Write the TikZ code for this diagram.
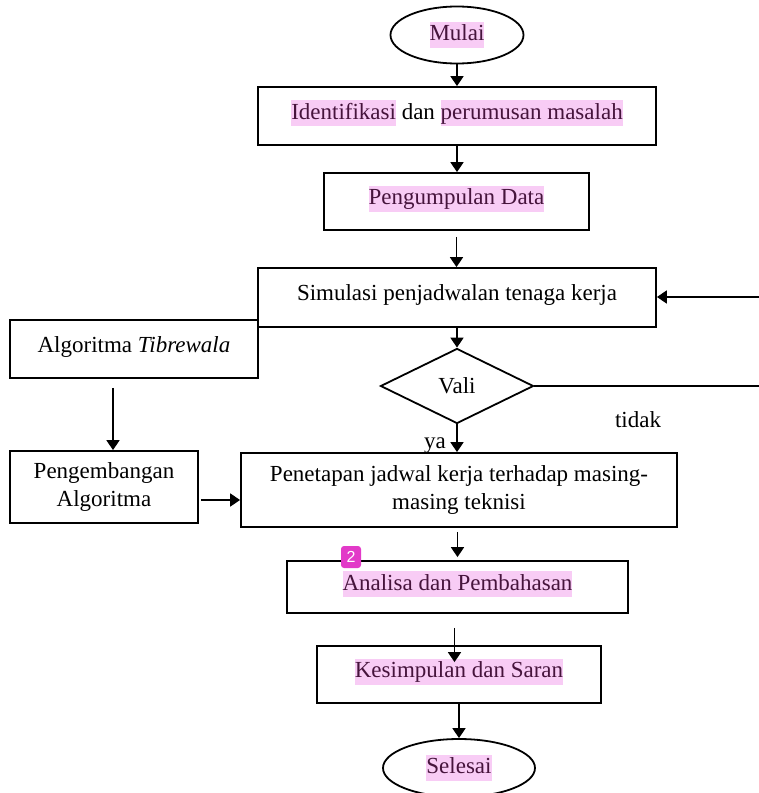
\documentclass[tikz,border=0pt]{standalone}
\usepackage{fontspec}
\setmainfont{Liberation Serif}
\newfontfamily\badgefont{Liberation Sans}
\usepackage{xcolor}
\usetikzlibrary{shapes.geometric,arrows.meta}
\definecolor{hlpink}{RGB}{248,204,245}
\definecolor{hltext}{RGB}{70,20,60}
\definecolor{badgepink}{RGB}{226,58,200}
\newcommand{\hl}[1]{{\setlength{\fboxsep}{0pt}\colorbox{hlpink}{\color{hltext}\rule[-3.6pt]{0pt}{13pt}#1}}}

\begin{document}
\begin{tikzpicture}[x=0.5pt,y=-0.5pt,
    font=\fontsize{11.5}{14}\selectfont,
    box/.style={draw,line width=0.9pt,inner sep=0pt,text height=8pt,text depth=5pt},
    twobox/.style={draw,line width=0.9pt,inner sep=0pt,align=center},
    term/.style={draw,ellipse,line width=0.9pt,inner sep=0pt},
    decide/.style={draw,diamond,line width=0.9pt,inner sep=0pt},
    link/.style={line width=0.9pt},
    arrow/.style={line width=0.9pt,-{Triangle[length=5pt,width=6.5pt]}}]
  \useasboundingbox (0,0) rectangle (759,793);
  % Start
  \node[term,minimum width=66.5pt,minimum height=28.5pt] (mulai) at (457,35) {\hl{Mulai}};
  % Main steps
  \node[box,minimum width=199pt,minimum height=29pt] (ident) at (457,116)
    {\hl{Identifikasi} dan \hl{perumusan masalah}};
  \node[box,minimum width=132.5pt,minimum height=28.5pt] (kumpul) at (456.5,201.5)
    {\hl{Pengumpulan Data}};
  \node[box,minimum width=199pt,minimum height=29.5pt] (simul) at (457,297.5)
    {Simulasi penjadwalan tenaga kerja};
  \node[box,minimum width=124pt,minimum height=29pt] (tibre) at (134,349)
    {Algoritma \textit{Tibrewala}};
  % Decision
  \node[decide,minimum width=76.5pt,minimum height=37.5pt] (vali) at (457,386) {Vali};
  \node (tidak) at (638,420) {tidak};
  \node[twobox,minimum width=94pt,minimum height=36pt] (kembang) at (104,487)
    {Pengembangan\\Algoritma};
  \node[twobox,minimum width=218pt,minimum height=37pt] (tetap) at (459,490)
    {Penetapan jadwal kerja terhadap masing-\\masing teknisi};
  \node (ya) at (435,446) {ya};
  \node[box,minimum width=170.5pt,minimum height=26pt] (analisa) at (457.5,587)
    {\hl{Analisa dan Pembahasan}};
  \node[fill=badgepink,rounded corners=1.5pt,minimum width=10pt,minimum height=11pt,
    inner sep=0pt,text=white,font=\badgefont\fontsize{8}{9}\selectfont] (badge) at (351,557) {2};
  \node[box,minimum width=142pt,minimum height=28.5pt] (simpul) at (459,674.5)
    {\hl{Kesimpulan dan Saran}};
  % End
  \node[term,minimum width=76pt,minimum height=29pt] (selesai) at (459,768) {\hl{Selesai}};
  % Loop back from the right
  \coordinate (loopin) at (759,297);
  \coordinate (loopout) at (759,386);
  % Connectors
  \draw[arrow] (mulai.south) -- (mulai.south |- ident.north);
  \draw[arrow] (ident.south) -- (ident.south |- kumpul.north);
  \draw[arrow,shorten <=3pt] (kumpul.south) -- (kumpul.south |- simul.north);
  \draw[arrow] (loopin) -- (loopin -| simul.east);
  \draw[arrow] (simul.south) -- (vali.north);
  \draw[link] (vali.east) -- (loopout);
  \draw[arrow] (vali.south) -- (vali.south |- tetap.north);
  \draw[arrow] ([xshift=-10.5pt,yshift=-4.5pt]tibre.south) -- ([xshift=-10.5pt]tibre.south |- kembang.north);
  \draw[arrow] ([xshift=1pt,yshift=-6.5pt]kembang.east) -- ([yshift=-6.5pt]kembang.east -| tetap.west);
  \draw[arrow,shorten <=2pt,shorten >=1.5pt] (analisa.north |- tetap.south) -- (analisa.north);
  \draw[arrow] ([xshift=-1.5pt,yshift=-7pt]analisa.south) -- ([xshift=-1.5pt,yshift=-8.5pt]analisa.south |- simpul.north);
  \draw[arrow] (simpul.south) -- (selesai.north);
\end{tikzpicture}
\end{document}
